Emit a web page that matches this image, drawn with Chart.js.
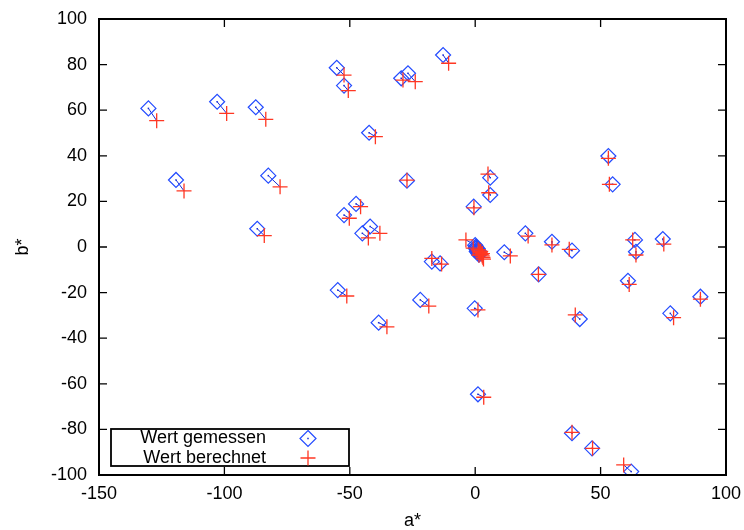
<!DOCTYPE html>
<html>
<head>
<meta charset="utf-8">
<script src="https://cdn.jsdelivr.net/npm/chart.js"></script>
<style>
  html, body { margin: 0; padding: 0; background: #fff; }
  canvas { display: block; }
</style>
</head>
<body>
<canvas id="chart" width="744" height="530"></canvas>
<script>
// Measured colour coordinates (a*, b*)
const measuredA = [
  -130.3, -102.9, -87.5, -55.2, -52.3, -42.3, -119.3, -82.5, -86.9, -52.3, -47.5,
  -45.0, -41.9, -12.8, -26.8, -29.5, -27.2, -0.6, 6.0, 6.0, 53.1, 54.8,
  20.0, 30.6, 38.6, 63.7, 64.1, 74.8, 11.6, -17.3, -14.0, -54.8, -38.5,
  -21.9, 25.3, 60.9, 89.8, -0.2, 41.7, 77.8, 1.1, 38.6, 46.6, 62.2,
  0.0, 0.3, 0.5, 0.7, 0.9, 1.1, 1.3, 1.5, 0.2, 1.0, 0.6, 1.4
];
const measuredB = [
  60.8, 63.7, 61.3, 78.6, 70.8, 50.1, 29.4, 31.3, 8.0, 14.0, 18.9,
  6.0, 9.0, 84.2, 76.2, 74.0, 29.1, 17.7, 30.4, 22.8, 39.9, 27.5,
  6.0, 2.3, -1.6, 3.1, -2.1, 3.5, -2.3, -6.4, -7.2, -18.9, -33.2,
  -23.2, -12.0, -14.8, -21.8, -26.9, -31.6, -29.1, -64.6, -81.7, -88.3, -98.5,
  0.8, 0.2, -0.4, -1.0, -1.6, -2.2, -2.8, -3.4, -0.6, -0.8, -2.0, -1.8
];

// Calculated colour coordinates (a*, b*), same order as above
const calculatedA = [
  -127.0, -99.1, -83.5, -52.3, -50.6, -39.8, -116.1, -77.8, -84.1, -50.2, -45.7,
  -42.6, -38.0, -10.6, -23.9, -28.8, -27.2, -0.5, 5.1, 5.4, 53.1, 53.5,
  21.1, 30.6, 37.5, 62.8, 64.1, 75.2, 14.0, -17.3, -13.4, -51.2, -35.2,
  -18.5, 25.2, 61.4, 89.8, 1.1, 39.9, 79.1, 3.4, 38.6, 46.8, 59.2,
  -3.7, 1.2, 1.6, 2.0, 2.4, 2.8, 3.1, 3.3, -0.8, 2.2, 1.5, 2.9
];
const calculatedB = [
  55.4, 58.6, 56.0, 75.4, 68.6, 48.4, 24.6, 26.4, 5.0, 12.6, 17.7,
  4.0, 6.0, 80.6, 72.5, 73.2, 29.3, 17.2, 32.0, 23.8, 38.9, 27.5,
  4.8, 0.9, -1.0, 3.1, -3.5, 1.3, -3.9, -5.0, -7.5, -21.5, -35.0,
  -25.9, -12.0, -16.4, -22.9, -27.6, -29.8, -31.0, -65.9, -81.3, -88.3, -95.6,
  3.1, -1.2, -1.8, -2.5, -3.2, -3.9, -4.6, -5.3, -0.5, -1.9, -3.6, -2.9
];

const xTicks = [-150, -100, -50, 0, 50, 100];
const yTicks = [-100, -80, -60, -40, -20, 0, 20, 40, 60, 80, 100];
const seriesNames = ['Wert gemessen', 'Wert berechnet'];
const axisTitles = ['a*', 'b*'];

const BLUE = 'rgb(35,75,255)';
const LINK = 'rgb(25,45,215)';
const RED = 'rgb(255,55,35)';
const FONT = { family: 'Liberation Sans, Arial, sans-serif', size: 18 };

function diamond(ctx, x, y, r) {
  ctx.beginPath();
  ctx.moveTo(x, y - r);
  ctx.lineTo(x + r, y);
  ctx.lineTo(x, y + r);
  ctx.lineTo(x - r, y);
  ctx.closePath();
  ctx.stroke();
}
function cross(ctx, x, y, r) {
  ctx.beginPath();
  ctx.moveTo(x - r, y); ctx.lineTo(x + r, y);
  ctx.moveTo(x, y - r); ctx.lineTo(x, y + r);
  ctx.stroke();
}

// Links from each measured point to its calculated point, plus centre dots
const linkPlugin = {
  id: 'links',
  beforeDatasetsDraw(chart) {
    const { ctx, scales: { x, y } } = chart;
    ctx.save();
    ctx.strokeStyle = LINK;
    ctx.fillStyle = LINK;
    ctx.lineWidth = 1;
    for (let i = 0; i < measuredA.length; i++) {
      const x0 = x.getPixelForValue(measuredA[i]);
      const y0 = y.getPixelForValue(measuredB[i]);
      const x1 = x.getPixelForValue(calculatedA[i]);
      const y1 = y.getPixelForValue(calculatedB[i]);
      ctx.beginPath();
      ctx.moveTo(x0, y0);
      ctx.lineTo(x1, y1);
      ctx.stroke();
      ctx.fillRect(x0 - 0.75, y0 - 0.75, 1.5, 1.5);
    }
    ctx.restore();
  }
};

// Closed border with inward ticks on all four sides, and the key box
const framePlugin = {
  id: 'frame',
  afterDraw(chart) {
    const { ctx, chartArea: a, scales: { x, y } } = chart;
    const T = 8;
    ctx.save();
    ctx.strokeStyle = '#000';
    ctx.lineWidth = 1.3;
    ctx.beginPath();
    xTicks.forEach(v => {
      const px = x.getPixelForValue(v);
      ctx.moveTo(px, a.bottom); ctx.lineTo(px, a.bottom - T);
      ctx.moveTo(px, a.top); ctx.lineTo(px, a.top + T);
    });
    yTicks.forEach(v => {
      const py = y.getPixelForValue(v);
      ctx.moveTo(a.left, py); ctx.lineTo(a.left + T, py);
      ctx.moveTo(a.right, py); ctx.lineTo(a.right - T, py);
    });
    ctx.stroke();
    ctx.lineWidth = 2;
    ctx.strokeRect(a.left, a.top, a.right - a.left, a.bottom - a.top);

    // key
    const bx = a.left + 12, bw = 238, bh = 37;
    const by = a.bottom - 9 - bh;
    ctx.fillStyle = '#fff';
    ctx.fillRect(bx, by, bw, bh);
    ctx.lineWidth = 1.8;
    ctx.strokeRect(bx, by, bw, bh);
    ctx.fillStyle = '#000';
    ctx.font = FONT.size + 'px ' + FONT.family;
    ctx.textAlign = 'right';
    ctx.textBaseline = 'alphabetic';
    const textRight = bx + 155;
    const symX = bx + 197;
    ctx.fillText(seriesNames[0], textRight, by + 14);
    ctx.fillText(seriesNames[1], textRight, by + 34);
    ctx.lineWidth = 1.2;
    ctx.strokeStyle = BLUE;
    diamond(ctx, symX, by + 9.5, 8);
    ctx.fillStyle = LINK;
    ctx.fillRect(symX - 0.75, by + 9.5 - 0.75, 1.5, 1.5);
    ctx.strokeStyle = RED;
    ctx.lineWidth = 1.3;
    cross(ctx, symX, by + 29, 7.5);
    ctx.restore();
  }
};

const toPoints = (xs, ys) => xs.map((v, i) => ({ x: v, y: ys[i] }));

new Chart(document.getElementById('chart'), {
  type: 'scatter',
  data: {
    datasets: [
      {
        label: seriesNames[1],
        data: toPoints(calculatedA, calculatedB),
        pointStyle: 'cross',
        pointRadius: 7.5,
        pointBorderWidth: 1.3,
        borderColor: RED,
        backgroundColor: RED,
        pointHoverRadius: 7.5
      },
      {
        label: seriesNames[0],
        data: toPoints(measuredA, measuredB),
        pointStyle: 'rectRot',
        pointRadius: 7.5,
        pointBorderWidth: 1.2,
        borderColor: BLUE,
        backgroundColor: 'rgba(0,0,0,0)',
        pointHoverRadius: 7.5
      }
    ]
  },
  options: {
    responsive: false,
    animation: false,
    devicePixelRatio: 1,
    layout: { padding: { left: 0, right: 18, top: 19, bottom: 0 } },
    plugins: { legend: { display: false }, tooltip: { enabled: false } },
    scales: {
      x: {
        type: 'linear', position: 'bottom', min: -150, max: 100,
        afterBuildTicks: s => { s.ticks = xTicks.map(v => ({ value: v })); },
        afterFit: s => { s.height = 55; s.paddingLeft = 0; s.paddingRight = 0; },
        grid: { display: false, drawTicks: false },
        border: { display: false },
        ticks: { padding: 8, color: '#000', font: FONT, maxRotation: 0, autoSkip: false },
        title: { display: true, text: axisTitles[0], color: '#000', font: FONT, padding: { top: 0, bottom: -2 } }
      },
      y: {
        type: 'linear', position: 'left', min: -100, max: 100,
        afterBuildTicks: s => { s.ticks = yTicks.map(v => ({ value: v })); },
        afterFit: s => { s.width = 99; s.paddingTop = 0; s.paddingBottom = 0; },
        grid: { display: false, drawTicks: false },
        border: { display: false },
        ticks: { padding: 12, color: '#000', font: FONT, autoSkip: false },
        title: { display: true, text: axisTitles[1], color: '#000', font: FONT, padding: { top: 12, bottom: 0 } }
      }
    }
  },
  plugins: [linkPlugin, framePlugin]
});
</script>
</body>
</html>
